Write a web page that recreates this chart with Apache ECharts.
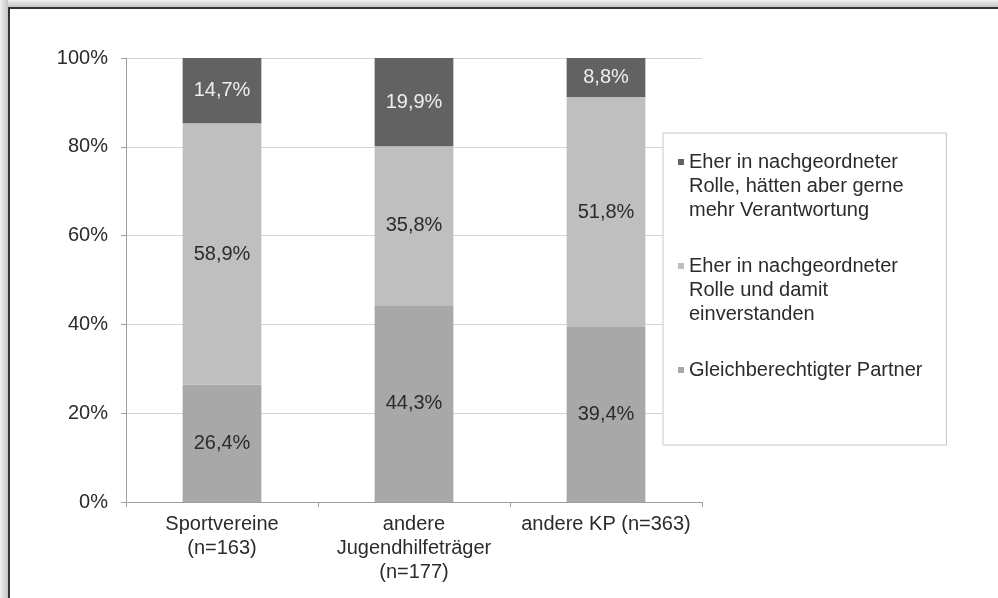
<!DOCTYPE html>
<html>
<head>
<meta charset="utf-8">
<script src="https://cdn.jsdelivr.net/npm/echarts@6/dist/echarts.min.js"></script>
<style>
  html, body { margin: 0; padding: 0; background: #fff; }
  #chart-container { width: 998px; height: 598px; }
</style>
</head>
<body>
<div id="chart-container"></div>
<script>
var categories = ['Sportvereine\n(n=163)', 'andere\nJugendhilfeträger\n(n=177)', 'andere KP (n=363)'];
var seriesNames = [
  'Gleichberechtigter Partner\n\n',
  'Eher in nachgeordneter\nRolle und damit\neinverstanden',
  'Eher in nachgeordneter\nRolle, hätten aber gerne\nmehr Verantwortung'
];
var partnerValues = [26.4, 44.3, 39.4];
var agreedValues = [58.9, 35.8, 51.8];
var moreValues = [14.7, 19.9, 8.8];
var yTicks = [0, 20, 40, 60, 80, 100];

var dom = document.getElementById('chart-container');
var myChart = echarts.init(dom, null, { renderer: 'canvas' });

var font = 'Liberation Sans';
var legendIcon = 'path://M0,9h6v6h-6z M0,0l0.01,0 M0,72l0.01,0';

function pct(p) {
  return p.value.toFixed(1).replace('.', ',') + '%';
}

function barSeries(name, data, color, labelColor) {
  return {
    name: name,
    type: 'bar',
    stack: 'total',
    barWidth: '41%',
    data: data,
    itemStyle: { color: color },
    label: {
      show: true,
      position: 'inside',
      formatter: pct,
      color: labelColor,
      fontFamily: font,
      fontSize: 20
    }
  };
}

var option = {
  animation: false,
  textStyle: { fontFamily: font },
  graphic: [
    {
      type: 'rect', silent: true, z: 10,
      shape: { x: 0, y: 0, width: 998, height: 7 },
      style: { fill: new echarts.graphic.LinearGradient(0, 0, 0, 1, [
        { offset: 0, color: '#f0f0f0' }, { offset: 1, color: '#c4c4c4' }]) }
    },
    {
      type: 'rect', silent: true, z: 10,
      shape: { x: 0, y: 0, width: 8, height: 598 },
      style: { fill: new echarts.graphic.LinearGradient(0, 0, 1, 0, [
        { offset: 0, color: '#f0f0f0' }, { offset: 1, color: '#c4c4c4' }]) }
    },
    {
      type: 'polyline', silent: true, z: 11,
      shape: { points: [[9, 598], [9, 8], [998, 8]] },
      style: { stroke: '#333', lineWidth: 2, fill: null }
    }
  ],
  grid: { left: 126, right: 296, top: 58, bottom: 96 },
  legend: {
    orient: 'vertical',
    left: 663,
    top: 133,
    padding: [17, 24, 15, 15],
    itemGap: 32,
    itemWidth: 6,
    itemHeight: 72,
    backgroundColor: '#fff',
    borderColor: '#c8c8c8',
    borderWidth: 1,
    textStyle: { fontSize: 20, lineHeight: 24, color: '#2b2b2b', fontFamily: font },
    data: [
      { name: seriesNames[2], icon: legendIcon },
      { name: seriesNames[1], icon: legendIcon },
      { name: seriesNames[0], icon: legendIcon }
    ]
  },
  xAxis: {
    type: 'category',
    data: categories,
    axisLine: { lineStyle: { color: '#a0a0a0', width: 1 } },
    axisTick: { show: true, length: 5, lineStyle: { color: '#a0a0a0' } },
    axisLabel: { interval: 0, margin: 10, fontSize: 20, lineHeight: 24, color: '#2b2b2b', fontFamily: font }
  },
  yAxis: {
    type: 'value',
    min: yTicks[0],
    max: yTicks[yTicks.length - 1],
    interval: yTicks[1] - yTicks[0],
    axisLine: { show: true, lineStyle: { color: '#a0a0a0' } },
    axisTick: { show: true, length: 5, lineStyle: { color: '#a0a0a0' } },
    splitLine: { lineStyle: { color: '#d4d4d4' } },
    axisLabel: { formatter: '{value}%', margin: 18, fontSize: 20, color: '#2b2b2b', fontFamily: font }
  },
  series: [
    barSeries(seriesNames[0], partnerValues, '#a8a8a8', '#2b2b2b'),
    barSeries(seriesNames[1], agreedValues, '#bfbfbf', '#2b2b2b'),
    barSeries(seriesNames[2], moreValues, '#626262', '#eeeeee')
  ]
};

myChart.setOption(option);
window.addEventListener('resize', myChart.resize);
</script>
</body>
</html>
